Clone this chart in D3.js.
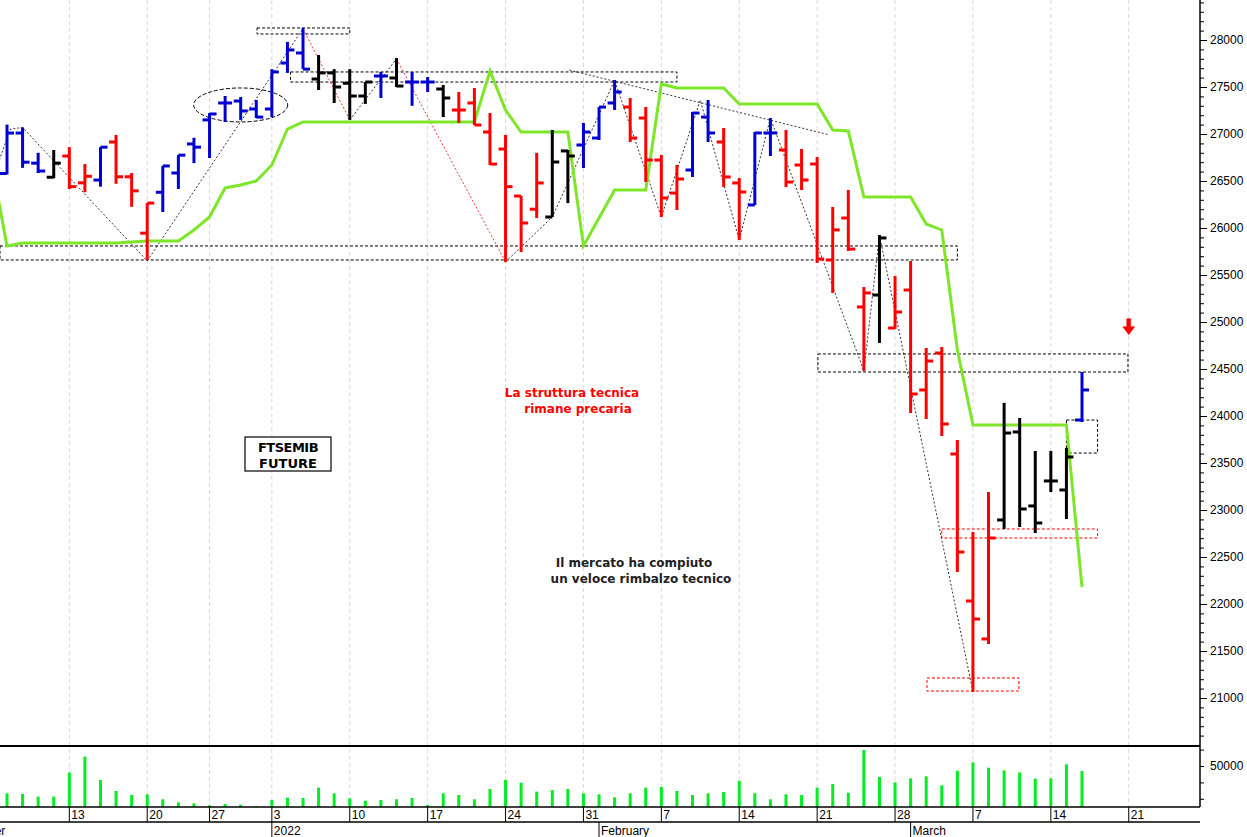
<!DOCTYPE html>
<html>
<head>
<meta charset="utf-8">
<script src="https://cdn.jsdelivr.net/npm/d3@7"></script>
<style>
body { margin: 0; background: #fff; }
svg { display: block; }
</style>
</head>
<body>
<div id="chart"></div>
<script>
var width = 1247;
var height = 837;

// daily bars, index 0 = 7 Dec 2021
var opens  = [26580,27010,26690,26540,26765,26480,26510,26915,26545,25945,26380,26585,26894,27150,27330,27351,27266,27266,27755,27862,
              27585,27650,27540,27404,27617,27596,27553,27553,27479,27255,27330,27021,26840,26340,26200,26117,26820,26883,26957,27330,
              27287,27170,26723,26372,26617,27180,26915,26479,26245,27011,26830,26670,26681,25660,26106,25160,25287,24936,25340,24277,
              24670,23596,22032,21628,22894,23830,23043,23309,23213,23957];
var highs  = [27100,27070,26800,26830,26860,26680,26860,26990,26585,26265,26660,26775,26960,27223,27404,27394,27362,27690,27980,28128,
              27840,27690,27690,27553,27660,27808,27660,27606,27521,27447,27489,27223,26990,26340,26800,27043,26830,27117,27287,27574,
              27383,27287,26777,26670,27234,27362,27064,26532,27021,27170,27043,26840,26755,26223,26404,25372,25925,25489,25649,24723,
              24734,23745,22766,23191,24140,23979,23628,23628,23660,24468];
var lows   = [26570,26640,26585,26530,26415,26380,26440,26470,26225,25660,26170,26415,26690,26745,27128,27150,27170,27180,27650,27690,
              27468,27330,27150,27320,27383,27500,27300,27447,27180,27117,27096,26670,25638,25745,26106,26117,26265,26638,26936,27255,
              26915,26489,26117,26191,26543,26915,26436,25872,26245,26766,26436,26404,25628,25309,25755,24479,24777,24926,24032,23968,
              23787,22340,21064,21574,22798,22819,22755,23191,22904,23936];
var closes = [27010,26700,26606,26690,26440,26550,26860,26545,26395,26265,26660,26775,26860,27213,27330,27245,27180,27660,27894,27690,
              27650,27500,27404,27553,27617,27510,27553,27553,27383,27255,27096,26680,26440,26053,26479,26702,26766,27021,27287,27447,
              26957,26723,26319,26521,27223,27011,26543,26383,27011,27011,26489,26510,25670,25980,25776,25309,25894,25106,24234,24585,
              23915,22553,21840,22702,23819,23011,22862,23309,23564,24277];
var barColors = "bbbkrrbrrrbbbbbbbbbbkkkkbkbbkrrrrrrkkbbbrrrrbbrrbbrrrrrrkrrrrrrrkkkkkb".split("");

// green line, index -1 .. 69
var green = [26700,25809,25840,25840,25840,25840,25840,25840,25840,25851,25862,25862,25862,25979,26117,26426,26457,26500,26670,27053,27128,
             27128,27128,27128,27128,27128,27128,27128,27128,27128,27128,27128,27670,27255,27021,27021,27021,27021,25809,26106,26404,
             26404,26404,27532,27489,27489,27489,27489,27319,27319,27319,27319,27319,27319,27043,27032,26330,26330,26330,26330,26043,
             25979,24702,23904,23904,23904,23904,23904,23904,23904,22181];

var volume = [16670,15860,12610,12610,41870,61400,32940,19520,14640,15450,9350,5690,4470,2030,3660,2850,1220,8540,11390,10980,
              23590,16670,10570,7730,8540,9350,10980,2440,16670,14640,9350,21960,32940,29690,18710,20740,21960,16670,15450,11790,
              16670,23590,24400,19520,14640,16670,18300,31720,16670,9350,15450,14640,23590,28060,17490,69540,36600,30090,34970,37410,
              26430,44290,54460,47950,44690,42250,34560,34970,52020,43880];

var dayTickIdx = [-1,4,9,13,17,22,27,32,37,42,47,52,57,62,67,72];
var dayTickLabels = ["6","13","20","27","3","10","17","24","31","7","14","21","28","7","14","21"];
var monthIdx = [-6,17,38,58];
var monthLabels = ["December","2022","February","March"];
var priceTicks = [21000,21500,22000,22500,23000,23500,24000,24500,25000,25500,26000,26500,27000,27500,28000];

// annotations in (index, price)
var zigBlack1 = [[-1,26480],[0.2,27050],[1,27070],[9,25650],[19,28120]];
var zigRed1 = [[19,28120],[22,27150]];
var zigBlack2 = [[22,27150],[25,27800]];
var zigRed2 = [[25,27800],[32,25640]];
var zigBlack3 = [[32,25640],[35,26117],[39,27570],[42,26117],[44.5,27360],[47,25872],[49,27170],[55,24479],[56,25925],[62,21064]];
var trendLine = [[36.1,27680],[52.8,26990]];
var boxes = [
  [16.05,22.0,28128,28064,"#000"],
  [18.2,43.0,27660,27553,"#000"],
  [-0.45,61.0,25809,25660,"#000"],
  [52.05,71.95,24660,24468,"#000"],
  [68.0,70.0,23957,23606,"#000"],
  [60.0,70.0,22798,22702,"#f00"],
  [59.05,64.95,21213,21074,"#f00"]
];

var colorMap = { b: "#0000d0", r: "#ff0000", k: "#000000" };

var x = d3.scaleLinear().domain([0, 69]).range([7, 1082]);
var y = d3.scaleLinear().domain([21000, 28000]).range([698, 40]);
var yv = d3.scaleLinear().domain([0, 50000]).range([807, 766]);

var svg = d3.select("#chart").append("svg")
    .attr("width", width)
    .attr("height", height)
    .style("font-family", "'Liberation Sans', Arial, sans-serif");

var plotRight = 1200;

// grid lines at mondays
svg.selectAll(".grid")
    .data(dayTickIdx.filter(function(d) { return x(d) > 0 && x(d) < plotRight; }))
    .enter().append("line")
    .attr("x1", function(d) { return x(d); })
    .attr("x2", function(d) { return x(d); })
    .attr("y1", 0)
    .attr("y2", 807)
    .attr("stroke", "#d8d8d8")
    .attr("stroke-dasharray", "4,3");

// dashed boxes
svg.selectAll(".box")
    .data(boxes)
    .enter().append("rect")
    .attr("x", function(d) { return x(d[0]); })
    .attr("y", function(d) { return y(d[2]); })
    .attr("width", function(d) { return x(d[1]) - x(d[0]); })
    .attr("height", function(d) { return y(d[3]) - y(d[2]); })
    .attr("fill", "none")
    .attr("stroke", function(d) { return d[4]; })
    .attr("stroke-dasharray", "3,2");

svg.append("ellipse")
    .attr("cx", x(15))
    .attr("cy", y(27309))
    .attr("rx", 47)
    .attr("ry", 17)
    .attr("fill", "none")
    .attr("stroke", "#000")
    .attr("stroke-dasharray", "4,2");

var line = d3.line()
    .x(function(d) { return x(d[0]); })
    .y(function(d) { return y(d[1]); });

[[zigBlack1, "#000"], [zigBlack2, "#000"], [zigBlack3, "#000"], [trendLine, "#000"], [zigRed1, "#f00"], [zigRed2, "#f00"]]
  .forEach(function(z) {
    svg.append("path")
        .attr("d", line(z[0]))
        .attr("fill", "none")
        .attr("stroke", z[1])
        .attr("stroke-width", 0.8)
        .attr("stroke-dasharray", "2,2");
  });

// green line
svg.append("path")
    .attr("d", d3.line()
        .x(function(d, i) { return x(i - 1); })
        .y(function(d) { return y(d); })(green))
    .attr("fill", "none")
    .attr("stroke", "#7ee628")
    .attr("stroke-width", 3);

// ohlc bars
var bars = svg.selectAll(".ohlc")
    .data(opens)
    .enter().append("g")
    .attr("stroke", function(d, i) { return colorMap[barColors[i]]; })
    .attr("stroke-width", 3);

bars.append("line")
    .attr("x1", function(d, i) { return x(i); })
    .attr("x2", function(d, i) { return x(i); })
    .attr("y1", function(d, i) { return y(highs[i]); })
    .attr("y2", function(d, i) { return y(lows[i]); });

bars.append("line")
    .attr("x1", function(d, i) { return x(i) - 7; })
    .attr("x2", function(d, i) { return x(i); })
    .attr("y1", function(d) { return y(d); })
    .attr("y2", function(d) { return y(d); });

bars.append("line")
    .attr("x1", function(d, i) { return x(i); })
    .attr("x2", function(d, i) { return x(i) + 7; })
    .attr("y1", function(d, i) { return y(closes[i]); })
    .attr("y2", function(d, i) { return y(closes[i]); });

// red arrow
svg.append("path")
    .attr("d", "M" + (x(72) - 2) + "," + (y(24950) - 8) + "h4v8h4l-6,8l-6,-8h4z")
    .attr("fill", "#f00")
    .attr("stroke", "#f00")
    .attr("stroke-width", 0.5);

// volume
svg.selectAll(".vol")
    .data(volume)
    .enter().append("line")
    .attr("x1", function(d, i) { return x(i); })
    .attr("x2", function(d, i) { return x(i); })
    .attr("y1", yv(0))
    .attr("y2", function(d) { return yv(d); })
    .attr("stroke", "#00ee22")
    .attr("stroke-width", 3);

// frame lines
svg.append("line").attr("x1", 0).attr("x2", plotRight).attr("y1", 746).attr("y2", 746).attr("stroke", "#000").attr("stroke-width", 2);
svg.append("line").attr("x1", 0).attr("x2", plotRight).attr("y1", 807).attr("y2", 807).attr("stroke", "#000").attr("stroke-width", 1.5);
svg.append("line").attr("x1", 0).attr("x2", plotRight).attr("y1", 822).attr("y2", 822).attr("stroke", "#000").attr("stroke-width", 1.5);
svg.append("line").attr("x1", plotRight).attr("x2", plotRight).attr("y1", 0).attr("y2", 807).attr("stroke", "#000").attr("stroke-width", 1.5);

// right price axis
var yAxis = d3.axisRight(y)
    .tickValues(d3.range(20600, 28500, 100))
    .tickSize(4)
    .tickFormat(function(d) { return priceTicks.indexOf(d) >= 0 ? d : ""; });

var gAxis = svg.append("g")
    .attr("transform", "translate(" + plotRight + ",0)")
    .call(yAxis);
gAxis.select(".domain").remove();
gAxis.selectAll(".tick line")
    .attr("x2", function(d) { return priceTicks.indexOf(d) >= 0 ? 7 : 4; })
    .attr("stroke", "#000");
gAxis.selectAll(".tick text")
    .attr("x", 10)
    .attr("font-size", "12px")
    .attr("fill", "#000");

// volume axis
var vAxis = svg.append("g")
    .attr("transform", "translate(" + plotRight + ",0)")
    .call(d3.axisRight(yv).tickValues([10000, 30000, 50000, 70000]).tickSize(4)
        .tickFormat(function(d) { return d === 50000 ? d : ""; }));
vAxis.select(".domain").remove();
vAxis.selectAll(".tick text").attr("x", 10).attr("font-size", "12px").attr("fill", "#000");

// date axis
var dayG = svg.selectAll(".day")
    .data(dayTickIdx)
    .enter().append("g")
    .attr("transform", function(d) { return "translate(" + x(d) + ",0)"; });
dayG.append("line").attr("y1", 807).attr("y2", 822).attr("stroke", "#000");
dayG.append("text")
    .attr("x", 2)
    .attr("y", 819)
    .attr("font-size", "12px")
    .attr("font-family", "'Liberation Sans Narrow', 'Liberation Sans', sans-serif")
    .text(function(d, i) { return dayTickLabels[i]; });

var monG = svg.selectAll(".mon")
    .data(monthIdx)
    .enter().append("g")
    .attr("transform", function(d, i) { return "translate(" + (i === 0 ? -52 : x(d)) + ",0)"; });
monG.append("line").attr("y1", 822).attr("y2", 837).attr("stroke", "#000");
monG.append("text")
    .attr("x", 2)
    .attr("y", 835)
    .attr("font-size", "12px")
    .attr("font-family", "'Liberation Sans Narrow', 'Liberation Sans', sans-serif")
    .text(function(d, i) { return monthLabels[i]; });

// text notes
svg.append("rect")
    .attr("x", 245).attr("y", 437).attr("width", 86).attr("height", 34)
    .attr("fill", "#fff").attr("stroke", "#000").attr("stroke-width", 1.2);
svg.append("text")
    .attr("x", 288).attr("y", 452)
    .attr("text-anchor", "middle")
    .attr("font-family", "'DejaVu Sans', Verdana, sans-serif")
    .attr("font-weight", "bold").attr("font-size", "13px")
    .attr("letter-spacing", "-0.5")
    .text("FTSEMIB");
svg.append("text")
    .attr("x", 288).attr("y", 468)
    .attr("text-anchor", "middle")
    .attr("font-family", "'DejaVu Sans', Verdana, sans-serif")
    .attr("font-weight", "bold").attr("font-size", "13px")
    .text("FUTURE");

svg.append("text")
    .attr("x", 572).attr("y", 397)
    .attr("text-anchor", "middle")
    .attr("fill", "#ff0000")
    .attr("font-family", "'DejaVu Sans', Verdana, sans-serif")
    .attr("font-weight", "bold").attr("font-size", "12px")
    .text("La struttura tecnica");
svg.append("text")
    .attr("x", 578).attr("y", 413)
    .attr("text-anchor", "middle")
    .attr("fill", "#ff0000")
    .attr("font-family", "'DejaVu Sans', Verdana, sans-serif")
    .attr("font-weight", "bold").attr("font-size", "12px")
    .text("rimane precaria");

svg.append("text")
    .attr("x", 634).attr("y", 567)
    .attr("text-anchor", "middle")
    .attr("fill", "#222")
    .attr("font-family", "'DejaVu Sans', Verdana, sans-serif")
    .attr("font-weight", "bold").attr("font-size", "12px")
    .text("Il mercato ha compiuto");
svg.append("text")
    .attr("x", 641).attr("y", 583)
    .attr("text-anchor", "middle")
    .attr("fill", "#222")
    .attr("font-family", "'DejaVu Sans', Verdana, sans-serif")
    .attr("font-weight", "bold").attr("font-size", "12px")
    .text("un veloce rimbalzo tecnico");
</script>
</body>
</html>
